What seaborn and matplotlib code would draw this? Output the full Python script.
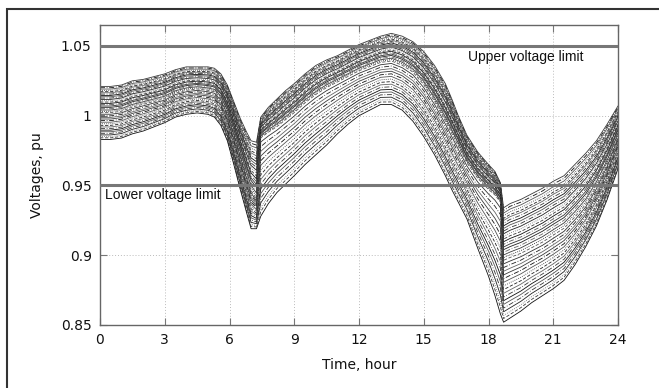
import numpy as np
import pandas as pd
import matplotlib
matplotlib.use("Agg")
import matplotlib.pyplot as plt
import seaborn as sns
from matplotlib.patches import Rectangle

# ---- data ----
hours = [0, 0.5, 1, 1.5, 2, 2.5, 3, 3.5, 4, 4.5, 5, 5.3, 5.6, 5.9, 6.2, 6.5, 6.8,
         7.0, 7.25, 7.45, 7.8, 8.2, 8.6, 9.0, 9.5, 10, 10.5, 11, 11.5, 12, 12.5,
         13, 13.5, 14, 14.5, 15, 15.5, 16, 16.3, 16.6, 17, 17.5, 18, 18.3, 18.55,
         18.7, 19, 19.5, 20, 20.5, 21, 21.5, 22, 22.5, 23, 23.5, 24]
v_top = [1.021, 1.021, 1.022, 1.025, 1.026, 1.028, 1.030, 1.033, 1.035, 1.035,
         1.035, 1.034, 1.030, 1.022, 1.010, 0.998, 0.988, 0.982, 0.981, 0.999,
         1.006, 1.012, 1.018, 1.023, 1.030, 1.036, 1.040, 1.043, 1.047, 1.051,
         1.054, 1.057, 1.059, 1.057, 1.053, 1.046, 1.036, 1.023, 1.012, 1.000,
         0.986, 0.974, 0.965, 0.960, 0.952, 0.934, 0.937, 0.940, 0.944, 0.948,
         0.953, 0.957, 0.965, 0.973, 0.982, 0.994, 1.007]
v_mid = [1.002, 1.002, 1.003, 1.006, 1.008, 1.010, 1.012, 1.016, 1.018, 1.019,
         1.018, 1.017, 1.012, 1.002, 0.988, 0.972, 0.956, 0.946, 0.940, 0.984,
         0.988, 0.992, 0.997, 1.002, 1.009, 1.015, 1.020, 1.024, 1.028, 1.032,
         1.035, 1.038, 1.039, 1.036, 1.031, 1.022, 1.010, 0.996, 0.987, 0.978,
         0.966, 0.955, 0.947, 0.943, 0.938, 0.896, 0.898, 0.901, 0.905, 0.909,
         0.914, 0.919, 0.927, 0.936, 0.949, 0.965, 0.985]
v_bot = [0.983, 0.983, 0.984, 0.987, 0.989, 0.992, 0.995, 0.999, 1.001, 1.002,
         1.001, 0.999, 0.993, 0.982, 0.965, 0.947, 0.930, 0.919, 0.919, 0.928,
         0.937, 0.945, 0.951, 0.957, 0.965, 0.972, 0.979, 0.987, 0.994, 1.000,
         1.004, 1.008, 1.008, 1.004, 0.996, 0.985, 0.972, 0.957, 0.947, 0.938,
         0.926, 0.905, 0.885, 0.871, 0.858, 0.852, 0.855, 0.860, 0.866, 0.871,
         0.876, 0.882, 0.893, 0.906, 0.921, 0.940, 0.962]
# position of every bus curve inside the band (+1 top edge, 0 dense middle, -1 bottom edge)
bus_pos = [1.00, 0.95, 0.90, 0.85, 0.80, 0.76, 0.71, 0.66, 0.61, 0.56, 0.51, 0.46,
           0.41, 0.36, 0.31, 0.26, 0.21, 0.16, 0.11, 0.06, 0.01, -0.05, -0.11,
           -0.17, -0.23, -0.29, -0.35, -0.41, -0.47, -0.53, -0.59, -0.65, -0.71,
           -0.77, -0.83, -0.89, -0.94, -1.00]
x_ticks = [0, 3, 6, 9, 12, 15, 18, 21, 24]
y_ticks = [0.85, 0.9, 0.95, 1.0, 1.05]
y_tick_labels = ["0.85", "0.9", "0.95", "1", "1.05"]
upper_limit = 1.05
lower_limit = 0.95

# ---- build long-form table ----
h = np.array(hours)
top = np.array(v_top); mid = np.array(v_mid); bot = np.array(v_bot)
rows = []
for i, f in enumerate(bus_pos):
    if f >= 0:
        v = mid + f * (top - mid)
    else:
        v = mid + (-f) * (bot - mid)
    for hh, vv in zip(h, v):
        rows.append({"bus": i, "hour": hh, "v": vv})
df = pd.DataFrame(rows)

sns.set_theme(style="white")
plt.rcParams["font.family"] = ["DejaVu Sans"]

fig = plt.figure(figsize=(6.59, 3.88), dpi=100)
ax = fig.add_axes([100/659, 63/388, 518/659, 300/388])

styles = ["-", (0, (6, 2, 1, 2)), "-", (0, (1, 1.5)), (0, (4, 2)), "-",
          (0, (6, 2, 1, 2)), "-"]
greys = ["#3a3a3a", "#111111", "#555555", "#333333", "#222222", "#666666"]
for i in range(len(bus_pos)):
    sub = df[df["bus"] == i]
    sns.lineplot(data=sub, x="hour", y="v", ax=ax, color=greys[i % len(greys)],
                 linestyle=styles[i % len(styles)], lw=0.6, estimator=None,
                 legend=False)

ax.axhline(upper_limit, color="#777777", lw=2.2, zorder=5)
ax.axhline(lower_limit, color="#777777", lw=2.2, zorder=5)
ax.text(17.05, 1.042, "Upper voltage limit", fontsize=10, va="center", ha="left",
        family=["Liberation Sans"], color="#111111")
ax.text(0.23, 0.943, "Lower voltage limit", fontsize=10, va="center", ha="left",
        family=["Liberation Sans"], color="#111111")

ax.set_xlim(0, 24)
ax.set_ylim(0.85, 1.065)
ax.set_xticks(x_ticks)
ax.set_xticklabels([str(t) for t in x_ticks])
ax.set_yticks(y_ticks)
ax.set_yticklabels(y_tick_labels)
ax.grid(True, color="#bbbbbb", linestyle=(0, (1, 2)), lw=0.7)
ax.tick_params(axis="both", which="both", direction="in", length=5, width=0.8,
               color="#777777", top=True, right=True, bottom=True, left=True,
               labelsize=10, labelcolor="#111111", pad=6)
for s in ax.spines.values():
    s.set_color("#666666")
    s.set_linewidth(1.0)
ax.set_xlabel("Time, hour", fontsize=10, color="#111111", labelpad=8)
ax.set_ylabel("Voltages, pu", fontsize=10, color="#111111", labelpad=12)

fig.add_artist(Rectangle((7/659, -0.05), 660/659, (388-9)/388 + 0.05,
                         transform=fig.transFigure, fill=False, lw=1.5,
                         ec="#333333"))

fig.savefig("out.png", dpi=100)
